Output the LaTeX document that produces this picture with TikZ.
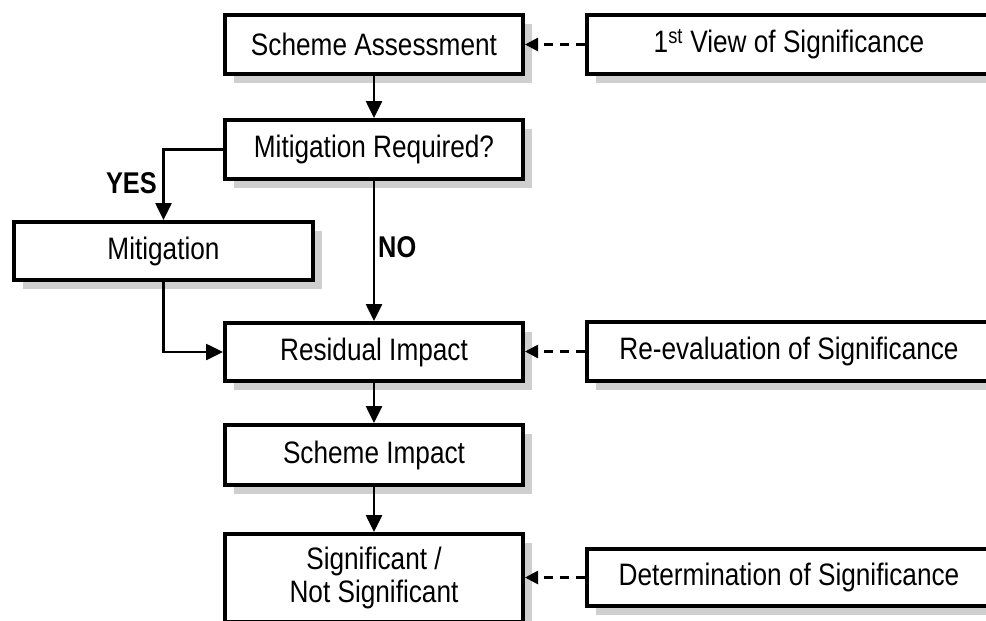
\documentclass[tikz,border=0pt]{standalone}
\usepackage{fontspec}
\setmainfont{Liberation Sans}[FakeStretch=0.845]
\usetikzlibrary{arrows.meta,shadows}
\begin{document}
\begin{tikzpicture}[x=1pt,y=-1pt,
  box/.style={draw=black,line width=4pt,fill=white,rectangle,inner sep=0pt,
    font=\fontsize{31}{33}\selectfont,align=center,
    drop shadow={shadow xshift=9pt,shadow yshift=-9pt,fill=black!19,opacity=1}},
  flow/.style={line width=2.6pt,-{Triangle[length=17pt,width=16pt]}},
  feed/.style={line width=2.6pt,dash pattern=on 9pt off 7pt,-{Triangle[length=13pt,width=13pt]}},
  lbl/.style={font=\fontsize{30}{33}\selectfont\bfseries,inner sep=0pt}]
\clip (0,0) rectangle (986,621);
\fill[white] (0,0) rectangle (986,621);
% main column
\node[box,minimum width=298pt,minimum height=59pt] (sa) at (374,44.5) {Scheme Assessment};
\node[box,minimum width=298pt,minimum height=59pt] (mr) at (374,149.5) {Mitigation Required?};
\node[box,minimum width=299pt,minimum height=58pt] (mit) at (163.5,251) {Mitigation};
\node[box,minimum width=298pt,minimum height=58pt] (ri) at (374,352) {Residual Impact};
\node[box,minimum width=298pt,minimum height=60pt] (si) at (374,455) {Scheme Impact};
\node[box,minimum width=298pt,minimum height=88pt] (sig) at (374,578) {Significant /\\Not Significant};
% right column
\node[box,minimum width=404pt,minimum height=59pt] (v1) at (789,44.5) {1\textsuperscript{st} View of Significance};
\node[box,minimum width=404pt,minimum height=59pt] (rev) at (789,351.5) {Re-evaluation of Significance};
\node[box,minimum width=404pt,minimum height=57pt] (det) at (789,577.5) {Determination of Significance};
% connectors
\draw[flow] (sa) -- (mr);
\draw[flow] (mr.west) -| (mit.north);
\draw[flow] (mr) -- (ri);
\draw[flow] (mit.south) |- (ri.west);
\draw[flow] (ri) -- (si);
\draw[flow] (si) -- (sig);
\draw[feed] (v1.west) -- (sa.east);
\draw[feed] (rev.west) -- (ri.east |- rev.west);
\draw[feed] (det.west) -- (sig.east |- det.west);
% labels
\node[lbl,anchor=east] (yes) at (157,183) {YES};
\node[lbl,anchor=west] (no) at (378,247) {NO};
\end{tikzpicture}
\end{document}
